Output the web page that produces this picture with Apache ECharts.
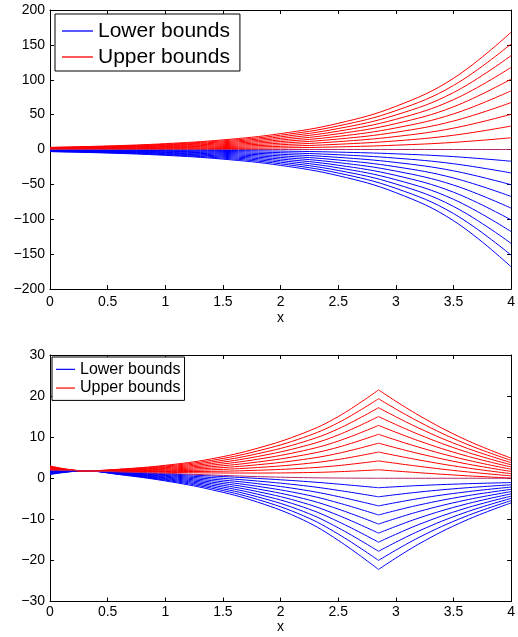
<!DOCTYPE html>
<html>
<head>
<meta charset="utf-8">
<script src="https://cdn.jsdelivr.net/npm/echarts@6/dist/echarts.min.js"></script>
<style>
html,body{margin:0;padding:0;background:#fff;}
#c{width:518px;height:637px;}
</style>
</head>
<body>
<div id="c"></div>
<script>
// ---------- data ----------
const xTop = [0, 0.5, 1, 1.5, 2, 2.5, 3, 3.5, 4];
const topUpper = [
  [0.31, 0.51, 0.84, 1.38, 2.28, 3.75, 6.19, 10.2, 16.8],
  [0.62, 1.02, 1.67, 2.76, 4.55, 7.50, 12.37, 20.4, 33.6],
  [0.92, 1.52, 2.51, 4.14, 6.83, 11.26, 18.56, 30.6, 50.5],
  [1.23, 2.03, 3.35, 5.52, 9.10, 15.01, 24.74, 40.8, 67.3],
  [1.54, 2.54, 4.19, 6.90, 11.38, 18.76, 30.93, 51.0, 84.1],
  [1.85, 3.05, 5.02, 8.28, 13.66, 22.51, 37.12, 61.2, 100.9],
  [2.16, 3.56, 5.86, 9.66, 15.93, 26.26, 43.30, 71.4, 117.7],
  [2.46, 4.06, 6.70, 11.04, 18.21, 30.02, 49.49, 81.6, 134.6],
  [2.77, 4.57, 7.53, 12.42, 20.48, 33.77, 55.67, 91.8, 151.4],
  [3.08, 5.08, 8.37, 13.80, 22.76, 37.52, 61.86, 102.0, 168.2]
];
const topLower = [
  [-0.31, -0.51, -0.84, -1.38, -2.28, -3.75, -6.19, -10.2, -16.8],
  [-0.62, -1.02, -1.67, -2.76, -4.55, -7.50, -12.37, -20.4, -33.6],
  [-0.92, -1.52, -2.51, -4.14, -6.83, -11.26, -18.56, -30.6, -50.5],
  [-1.23, -2.03, -3.35, -5.52, -9.10, -15.01, -24.74, -40.8, -67.3],
  [-1.54, -2.54, -4.19, -6.90, -11.38, -18.76, -30.93, -51.0, -84.1],
  [-1.85, -3.05, -5.02, -8.28, -13.66, -22.51, -37.12, -61.2, -100.9],
  [-2.16, -3.56, -5.86, -9.66, -15.93, -26.26, -43.30, -71.4, -117.7],
  [-2.46, -4.06, -6.70, -11.04, -18.21, -30.02, -49.49, -81.6, -134.6],
  [-2.77, -4.57, -7.53, -12.42, -20.48, -33.77, -55.67, -91.8, -151.4],
  [-3.08, -5.08, -8.37, -13.80, -22.76, -37.52, -61.86, -102.0, -168.2]
];
const topZero = [0, 0, 0, 0, 0, 0, 0, 0, 0];

const xBot = [0, 0.3, 0.6, 1.0, 1.4, 1.8, 2.2, 2.5, 2.85, 3.2, 3.6, 4.0];
const botPeakIndex = 8;
const botUpper = [
  [2.06, 1.80, 1.62, 1.44, 1.30, 1.27, 1.37, 1.59, 2.06, 1.35, 0.63, 0.04],
  [2.16, 1.80, 1.68, 1.63, 1.68, 1.94, 2.44, 3.08, 4.22, 2.90, 1.61, 0.58],
  [2.27, 1.80, 1.75, 1.82, 2.06, 2.61, 3.51, 4.57, 6.38, 4.45, 2.59, 1.12],
  [2.37, 1.80, 1.81, 2.01, 2.44, 3.28, 4.58, 6.06, 8.54, 6.00, 3.57, 1.66],
  [2.48, 1.80, 1.88, 2.20, 2.82, 3.95, 5.65, 7.55, 10.70, 7.55, 4.55, 2.20],
  [2.58, 1.80, 1.94, 2.39, 3.20, 4.62, 6.72, 9.04, 12.86, 9.10, 5.53, 2.74],
  [2.69, 1.80, 2.01, 2.58, 3.58, 5.29, 7.79, 10.53, 15.02, 10.65, 6.51, 3.28],
  [2.79, 1.80, 2.07, 2.77, 3.96, 5.96, 8.86, 12.02, 17.18, 12.20, 7.49, 3.82],
  [2.90, 1.80, 2.14, 2.96, 4.34, 6.63, 9.93, 13.51, 19.34, 13.75, 8.47, 4.36],
  [3.00, 1.80, 2.20, 3.15, 4.72, 7.30, 11.00, 15.00, 21.50, 15.30, 9.45, 4.90]
];
const botLower = [
  [1.85, 1.80, 1.49, 1.06, 0.55, -0.04, -0.75, -1.42, -2.31, -1.78, -1.35, -1.05],
  [1.74, 1.80, 1.42, 0.87, 0.18, -0.68, -1.80, -2.94, -4.52, -3.36, -2.35, -1.60],
  [1.64, 1.80, 1.36, 0.68, -0.19, -1.32, -2.85, -4.46, -6.73, -4.94, -3.35, -2.15],
  [1.53, 1.80, 1.29, 0.49, -0.56, -1.96, -3.90, -5.98, -8.94, -6.52, -4.35, -2.70],
  [1.43, 1.80, 1.23, 0.30, -0.93, -2.60, -4.95, -7.50, -11.15, -8.10, -5.35, -3.25],
  [1.32, 1.80, 1.16, 0.11, -1.30, -3.24, -6.00, -9.02, -13.36, -9.68, -6.35, -3.80],
  [1.22, 1.80, 1.10, -0.08, -1.67, -3.88, -7.05, -10.54, -15.57, -11.26, -7.35, -4.35],
  [1.11, 1.80, 1.03, -0.27, -2.04, -4.52, -8.10, -12.06, -17.78, -12.84, -8.35, -4.90],
  [1.01, 1.80, 0.97, -0.46, -2.41, -5.16, -9.15, -13.58, -19.99, -14.42, -9.35, -5.45],
  [0.90, 1.80, 0.90, -0.65, -2.78, -5.80, -10.20, -15.10, -22.20, -16.00, -10.35, -6.00]
];
const botZero = [1.95, 1.80, 1.55, 1.20, 0.80, 0.40, 0.15, 0.05, 0.00, 0.00, 0.00, 0.00];

const xTicks = [0, 0.5, 1, 1.5, 2, 2.5, 3, 3.5, 4];
const topYTicks = [-200, -150, -100, -50, 0, 50, 100, 150, 200];
const botYTicks = [-30, -20, -10, 0, 10, 20, 30];
const legendNames = ['Lower bounds', 'Upper bounds'];

// ---------- chart ----------
const FONT = "'Liberation Sans', Arial, Helvetica, sans-serif";
const RED = '#ff0000', BLUE = '#0000ff', PURPLE = '#b0286c';

function pts(xs, ys, breakAt) {
  const d = [];
  xs.forEach((x, i) => {
    d.push([x, ys[i]]);
    if (i === breakAt) { d.push([x, '-']); d.push([x, ys[i]]); }
  });
  return d;
}
function fmtMinus(v) { return String(v).replace('-', '\u2212'); }

const grids = [
  {left: 50, top: 10, width: 468, height: 279},
  {left: 50, top: 355, width: 468, height: 246.5}
];

function xAxes(gi, nameGap, labelMargin) {
  return [
    {type: 'value', gridIndex: gi, position: 'bottom', min: xTicks[0], max: xTicks[xTicks.length - 1], interval: 0.5,
     name: 'x', nameLocation: 'middle', nameGap: nameGap,
     nameTextStyle: {fontFamily: FONT, fontSize: 14, color: '#000'},
     axisLine: {show: true, onZero: false, lineStyle: {color: '#000', width: 1}},
     axisTick: {show: true, inside: true, length: 4, lineStyle: {color: '#000'}},
     axisLabel: {show: true, margin: labelMargin, fontFamily: FONT, fontSize: 14, color: '#000', formatter: fmtMinus},
     splitLine: {show: false}},
    {type: 'value', gridIndex: gi, position: 'top', min: xTicks[0], max: xTicks[xTicks.length - 1], interval: 0.5,
     axisLine: {show: true, onZero: false, lineStyle: {color: '#000', width: 1}},
     axisTick: {show: true, inside: true, length: 4, lineStyle: {color: '#000'}},
     axisLabel: {show: false}, splitLine: {show: false}}
  ];
}
function yAxes(gi, ticks) {
  const mn = ticks[0], mx = ticks[ticks.length - 1], iv = ticks[1] - ticks[0];
  return [
    {type: 'value', gridIndex: gi, position: 'left', min: mn, max: mx, interval: iv,
     axisLine: {show: true, onZero: false, lineStyle: {color: '#000', width: 1}},
     axisTick: {show: true, inside: true, length: 4, lineStyle: {color: '#000'}},
     axisLabel: {show: true, margin: 5, fontFamily: FONT, fontSize: 14, color: '#000', formatter: fmtMinus},
     splitLine: {show: false}},
    {type: 'value', gridIndex: gi, position: 'right', min: mn, max: mx, interval: iv,
     axisLine: {show: true, onZero: false, lineStyle: {color: '#000', width: 1}},
     axisTick: {show: true, inside: true, length: 4, lineStyle: {color: '#000'}},
     axisLabel: {show: false}, splitLine: {show: false}}
  ];
}

const series = [];
function addLine(name, color, xIdx, yIdx, data) {
  series.push({
    type: 'line', name: name, xAxisIndex: xIdx, yAxisIndex: yIdx, data: data,
    color: color, showSymbol: false, symbol: 'none', smooth: 0.4,
    lineStyle: {color: color, width: 1}, silent: true, animation: false, clip: true
  });
}
// top plot: x axis 0, y axis 0
topLower.forEach(v => addLine('Lower bounds', BLUE, 0, 0, pts(xTop, v, -1)));
topUpper.forEach(v => addLine('Upper bounds', RED, 0, 0, pts(xTop, v, -1)));
addLine('zeroTop', PURPLE, 0, 0, pts(xTop, topZero, -1));
// bottom plot: x axis 2, y axis 2
botLower.forEach(v => addLine('Lower bounds', BLUE, 2, 2, pts(xBot, v, botPeakIndex)));
botUpper.forEach(v => addLine('Upper bounds', RED, 2, 2, pts(xBot, v, botPeakIndex)));
addLine('zeroBot', PURPLE, 2, 2, pts(xBot, botZero, botPeakIndex));

const option = {
  backgroundColor: '#fff',
  animation: false,
  grid: grids,
  xAxis: [...xAxes(0, 22, 6), ...xAxes(1, 17, 4)],
  yAxis: [...yAxes(0, topYTicks), ...yAxes(1, botYTicks)],
  legend: [
    {data: legendNames, orient: 'vertical', left: 55, top: 14, padding: [4, 10, 1, 7],
     itemGap: 0, itemWidth: 31, itemHeight: 1.3, icon: 'rect',
     backgroundColor: '#fff', borderColor: '#000', borderWidth: 1, borderRadius: 0,
     selectedMode: false,
     textStyle: {fontFamily: FONT, fontSize: 21, lineHeight: 26, color: '#000'}},
    {data: legendNames, orient: 'vertical', left: 52, top: 357, padding: [3, 4, 3, 4],
     itemGap: 0, itemWidth: 19, itemHeight: 1.2, icon: 'rect',
     backgroundColor: '#fff', borderColor: '#000', borderWidth: 1, borderRadius: 0,
     selectedMode: false,
     textStyle: {fontFamily: FONT, fontSize: 16, lineHeight: 18.7, color: '#000'}}
  ],
  series: series
};

const chart = echarts.init(document.getElementById('c'), null, {renderer: 'canvas'});
chart.setOption(option);
</script>
</body>
</html>
